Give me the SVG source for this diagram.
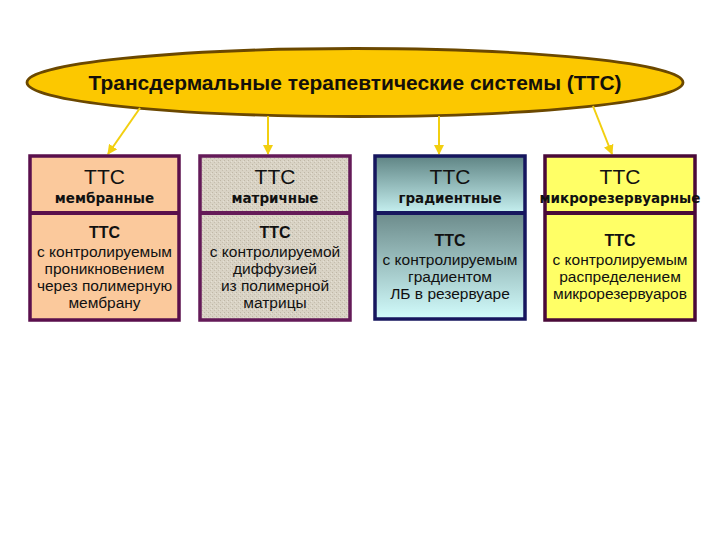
<svg xmlns="http://www.w3.org/2000/svg" width="720" height="540" viewBox="0 0 720 540">
<style>
.big{font-family:"Liberation Sans",Arial,sans-serif;font-size:21px;fill:#111;text-anchor:middle}
.sub{font-family:"DejaVu Sans",Verdana,sans-serif;font-weight:bold;font-size:13.5px;fill:#111;text-anchor:middle}
.tb{font-family:"Liberation Sans",Arial,sans-serif;font-weight:bold;font-size:16px;fill:#111;text-anchor:middle}
.tx{font-family:"Liberation Sans",Arial,sans-serif;font-size:15.5px;fill:#111;text-anchor:middle}
.frame{stroke-width:3.5}
.conn{stroke:#f2cf10;stroke-width:2;fill:none;marker-end:url(#ah)}
</style>
<defs>
<marker id="ah" viewBox="0 0 10 10" refX="9" refY="5" markerWidth="5" markerHeight="5" orient="auto">
<path d="M0,0 L10,5 L0,10 z" fill="#f2cf10"/>
</marker>
<pattern id="fabric" width="4" height="4" patternUnits="userSpaceOnUse">
<rect width="4" height="4" fill="#d9d3c5"/>
<rect x="0" y="0" width="1" height="1" fill="#bfb7a6"/>
<rect x="2" y="2" width="1" height="1" fill="#c6beae"/>
<rect x="3" y="1" width="1" height="1" fill="#e6e1d5"/>
</pattern>
<linearGradient id="g3a" x1="0" y1="0" x2="0" y2="1">
<stop offset="0" stop-color="#5f8484"/>
<stop offset="1" stop-color="#c6f0f0"/>
</linearGradient>
<linearGradient id="g3b" x1="0" y1="0" x2="0" y2="1">
<stop offset="0" stop-color="#6c8b8b"/>
<stop offset="1" stop-color="#d2fcfc"/>
</linearGradient>
</defs>
<rect width="720" height="540" fill="#ffffff"/>

<g id="title">
<ellipse cx="355" cy="82.5" rx="328" ry="34" fill="#fcc800" stroke="#6b4800" stroke-width="2.8"/>
<text x="355" y="90" font-family="Liberation Sans, Arial, sans-serif" font-weight="bold" font-size="20" fill="#14100a" text-anchor="middle" textLength="533" lengthAdjust="spacingAndGlyphs">Трансдермальные терапевтические системы (ТТС)</text>
</g>

<g id="connectors">
<line class="conn" x1="140" y1="108" x2="108" y2="154"/>
<line class="conn" x1="268" y1="116" x2="268" y2="154"/>
<line class="conn" x1="439" y1="116" x2="439" y2="154"/>
<line class="conn" x1="593" y1="106" x2="612" y2="154"/>
</g>

<g id="box1">
<rect x="30" y="156" width="149" height="164" fill="#fbc99c" stroke="#5a0f4c" class="frame"/>
<line x1="30" y1="213" x2="179" y2="213" stroke="#5a0f4c" stroke-width="4"/>
<text class="big" x="104.5" y="184">ТТС</text>
<text class="sub" x="104.5" y="203">мембранные</text>
<text class="tb" x="104.5" y="238">ТТС</text>
<text class="tx" x="104.5" y="257">с контролируемым</text>
<text class="tx" x="104.5" y="274">проникновением</text>
<text class="tx" x="104.5" y="291">через полимерную</text>
<text class="tx" x="104.5" y="308">мембрану</text>
</g>

<g id="box2">
<rect x="200" y="156" width="150" height="164" fill="url(#fabric)" stroke="#641a58" class="frame"/>
<line x1="200" y1="213" x2="350" y2="213" stroke="#641a58" stroke-width="4"/>
<text class="big" x="275" y="184">ТТС</text>
<text class="sub" x="275" y="203">матричные</text>
<text class="tb" x="275" y="238">ТТС</text>
<text class="tx" x="275" y="257">с контролируемой</text>
<text class="tx" x="275" y="274">диффузией</text>
<text class="tx" x="275" y="291">из полимерной</text>
<text class="tx" x="275" y="308">матрицы</text>
</g>

<g id="box3">
<rect x="375" y="156" width="150" height="57" fill="url(#g3a)"/>
<rect x="375" y="213" width="150" height="106" fill="url(#g3b)"/>
<rect x="375" y="156" width="150" height="163" fill="none" stroke="#16165e" class="frame"/>
<line x1="375" y1="213" x2="525" y2="213" stroke="#16165e" stroke-width="4"/>
<text class="big" x="450" y="184">ТТС</text>
<text class="sub" x="450" y="203">градиентные</text>
<text class="tb" x="450" y="246">ТТС</text>
<text class="tx" x="450" y="265">с контролируемым</text>
<text class="tx" x="450" y="282">градиентом</text>
<text class="tx" x="450" y="299">ЛБ в резервуаре</text>
</g>

<g id="box4">
<rect x="545" y="156" width="150" height="164" fill="#ffff66" stroke="#4a0a38" class="frame"/>
<line x1="545" y1="213" x2="695" y2="213" stroke="#4a0a38" stroke-width="4"/>
<text class="big" x="620" y="184">ТТС</text>
<text class="sub" x="620" y="203">микрорезервуарные</text>
<text class="tb" x="620" y="246">ТТС</text>
<text class="tx" x="620" y="265">с контролируемым</text>
<text class="tx" x="620" y="282">распределением</text>
<text class="tx" x="620" y="299">микрорезервуаров</text>
</g>
</svg>
